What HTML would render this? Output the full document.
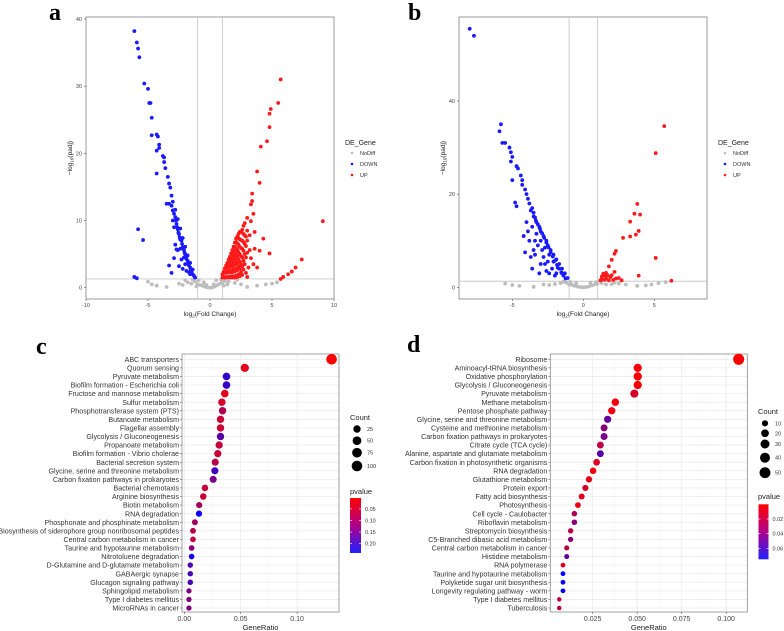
<!DOCTYPE html>
<html><head><meta charset="utf-8">
<style>
html,body{margin:0;padding:0;background:#fff;}
svg{display:block;font-family:"Liberation Sans",sans-serif;}
.pl{font-family:"Liberation Serif",serif;font-weight:bold;font-size:24px;fill:#000;}
</style></head>
<body>
<svg id="fig" width="784" height="631" viewBox="0 0 784 631" xmlns="http://www.w3.org/2000/svg">
<text class="pl" x="49" y="20">a</text>
<text class="pl" x="408" y="20">b</text>
<text class="pl" x="36" y="354">c</text>
<text class="pl" x="407" y="352">d</text>
</svg>
<script>
const NS='http://www.w3.org/2000/svg';
const svg=document.getElementById('fig');

// ---------- Panel a data ----------
const aDown=[[-6.1,38.2],[-5.9,36.5],[-5.8,35.6],[-5.7,34.3],[-5.3,30.4],[-5,29.6],[-4.9,27.5],[-4.8,27.5],[-4.7,25.3],[-4.7,22.7],[-4.3,22.8],[-4.2,22.5],[-4.1,21.3],[-4.1,20.8],[-4.3,20.4],[-3.8,19.6],[-3.7,19.4],[-3.7,18.7],[-3.6,17.8],[-4.3,17],[-3.4,16.5],[-3.3,15.5],[-3.2,14.9],[-3.1,13.7],[-3.5,12.5],[-3.3,12.5],[-3.1,12.2],[-3,11.5],[-2.9,11],[-2.8,10.5],[-2.75,10],[-2.7,9.5],[-2.65,9],[-2.6,8.7],[-2.55,8.2],[-2.5,8],[-2.45,7.5],[-2.4,7.2],[-2.3,7],[-2.25,6.5],[-2.2,6],[-2.1,5.6],[-2.05,5.2],[-2,5],[-1.95,4.6],[-1.9,4.3],[-1.8,4],[-1.75,3.6],[-1.7,3.3],[-1.6,3],[-1.55,2.7],[-1.5,2.4],[-1.4,2],[-1.3,1.8],[-1.2,1.5],[-3.0,12.8],[-2.8,11.6],[-2.6,10.2],[-2.4,8.8],[-2.2,7.4],[-2.0,6.1],[-1.8,4.8],[-1.6,3.7],[-1.4,2.7],[-5.8,8.7],[-5.4,7.1],[-6.1,1.6],[-5.9,1.4],[-3.3,3.3],[-3.1,2.2],[-2.9,4.4],[-2.6,5.6],[-2.5,3.2],[-2.2,2.8],[-2.8,6.4],[-2,3.5],[-1.9,2.5],[-3,10],[-2.9,9],[-2.4,5.8],[-2.1,4.5],[-1.7,2.3],[-2.7,5.7],[-2.3,4.2],[-1.6,2.0]];
const aUp=[[5.7,31],[5.5,27.5],[4.9,26.6],[4.8,25.9],[4.8,23.9],[4.6,21.8],[4.1,21],[3.8,17.3],[4,15.6],[3.4,14],[3.4,12.9],[3.3,12.4],[3.5,11],[3,10.4],[3.3,9.9],[9.1,9.9],[7.4,4.2],[4.3,7.3],[4.8,5.1],[6.9,3],[6.6,2.4],[6.3,2],[5.9,1.6],[5.7,1.3],[3.8,3],[3.6,5.8],[4,5.5],[3.5,3.5],[3,1.6],[3.6,8.3],[3.2,7.8],
[1.0,1.5],[1.0,2.0],[1.1,1.6],[1.1,2.4],[1.2,1.5],[1.2,2.2],[1.2,2.9],[1.3,1.6],[1.3,2.5],[1.3,3.3],[1.4,1.5],[1.4,2.2],[1.4,3.0],[1.4,3.7],[1.5,1.6],[1.5,2.5],[1.5,3.4],[1.5,4.2],[1.6,1.5],[1.6,2.3],[1.6,3.1],[1.6,3.9],[1.6,4.6],[1.7,1.7],[1.7,2.6],[1.7,3.5],[1.7,4.4],[1.7,5.1],[1.8,1.5],[1.8,2.3],[1.8,3.2],[1.8,4.1],[1.8,5.0],[1.8,5.6],[1.9,1.7],[1.9,2.7],[1.9,3.7],[1.9,4.6],[1.9,5.5],[1.9,6.1],[2.0,1.5],[2.0,2.4],[2.0,3.4],[2.0,4.3],[2.0,5.2],[2.0,6.1],[2.0,6.7],[2.1,1.8],[2.1,2.9],[2.1,3.9],[2.1,4.9],[2.1,5.9],[2.1,6.8],[2.1,7.3],[2.2,1.6],[2.2,2.6],[2.2,3.6],[2.2,4.6],[2.2,5.6],[2.2,6.6],[2.2,7.6],[2.3,2.0],[2.3,3.1],[2.3,4.2],[2.3,5.3],[2.3,6.4],[2.3,7.4],[2.3,8.0],[2.4,1.7],[2.4,2.8],[2.4,3.9],[2.4,5.0],[2.4,6.1],[2.4,7.2],[2.4,8.3],[2.5,2.3],[2.5,3.5],[2.5,4.7],[2.5,5.9],[2.5,7.1],[2.5,8.3],[2.6,1.9],[2.6,3.2],[2.6,4.5],[2.6,5.8],[2.6,7.0],[2.6,8.6],[2.7,2.7],[2.7,4.0],[2.7,5.5],[2.7,6.8],[2.7,8.0],[2.7,9.2],[2.8,3.5],[2.8,5.0],[2.8,6.5],[2.8,7.8],[2.8,9.6],[2.9,4.5],[2.9,6.2],[2.9,7.6],[3.0,5.2],[3.0,7.0],[3.0,8.5],[3.1,3.0],[3.2,5.6],[2.9,2.2],[3.3,4.4]];
const aNo=[[-5,0.9],[-4.7,0.5],[-4.3,0.3],[-3.5,0.1],[-2.5,0.6],[-2.2,0.4],[-1.8,0.8],[-1.5,0.6],[-1.2,0.9],[-1,0.5],[-0.8,0.4],[-0.6,0.3],[-0.4,0.15],[-0.2,0.05],[0,0],[0.2,0.05],[0.4,0.2],[0.6,0.4],[0.8,0.6],[1,0.8],[1.2,1],[1.5,0.9],[2,0.7],[2.5,0.5],[3,0.1],[3.8,0.3],[4.5,0.5],[5,0.6],[5.4,0.8],[-0.5,0.8],[0.5,1.1],[-1.4,1.2],[1.4,0.5],[2.2,1.2],[-2,1.1],[-0.9,1.1],[0.9,1.2],[-0.3,0.4],[0.3,0.5],[-1.1,0.2],[1.1,0.3]];
const aXTicks=[-10,-5,0,5,10];
const aYTicks=[0,10,20,30,40];

// ---------- Panel b data ----------
const bDown=[[-8,55.5],[-7.7,54],[-5.8,35],[-5.9,33.5],[-5.7,31],[-5.5,31],[-5.2,30],[-5.1,29],[-5,28],[-5.1,27],[-4.7,26],[-4.6,25.5],[-4.4,24],[-4.3,23],[-5,23],[-4.3,22],[-4.1,21],[-4,20],[-3.9,19],[-3.8,18],[-4.8,18.2],[-4.7,17.4],[-3.6,17],[-3.5,16],[-3.4,15],[-3.3,14],[-3.1,13],[-3,12],[-2.8,11],[-2.6,10],[-2.5,9],[-2.3,8],[-2.1,7],[-1.9,6],[-1.7,5],[-1.5,4],[-1.3,3],[-1.1,2],[-4,14],[-4.2,11],[-3.9,12],[-4.1,7.5],[-3.7,6.5],[-3.6,4],[-3.1,3],[-2.7,5],[-2.4,3],[-3.4,10],[-2.9,8],[-2,2.5],
[-3.5,15.2],[-3.35,14.4],[-3.2,13.5],[-3.05,12.6],[-2.9,11.6],[-2.75,10.6],[-2.6,9.6],[-2.45,8.6],[-2.3,7.5],[-2.15,6.6],[-2.0,5.7],[-1.85,4.8],[-1.7,4.0],[-1.55,3.2],[-1.4,2.5],[-1.25,1.9],[-3.6,13],[-3.3,11.5],[-3.0,10],[-2.7,8.5],[-2.4,7],[-2.1,5.5],[-1.8,4.2],[-1.5,3],[-3.7,16.5],[-3.2,9],[-2.8,6.5],[-2.5,5.5],[-2.2,4],[-1.9,3],[-3.4,7],[-3,5],[-2.6,3.5],[-3.8,10],[-3.5,8]];
const bUp=[[5.7,34.6],[5.1,28.8],[3.8,17.9],[3.6,15.8],[4,15.6],[3.3,14.1],[3.9,12.1],[3.7,11.3],[3.3,10.9],[2.8,10.6],[2.3,7.8],[2.2,7.2],[2,5.9],[1.8,4.5],[5.1,6.3],[3.9,2.5],[6.2,1.4],[2.2,3.3],[2.5,2],[1.5,2.5],[1.3,1.7],[1.6,1.9],[1.9,2.2],[2.1,1.6],[1.4,2.9],[1.7,2.6],[2.7,1.5],[1.2,1.5],[1.5,1.6],[1.8,1.5],[2.0,2.6],[1.6,3.1],[1.3,2.3],[2.3,1.9]];
const bNo=[[-5.5,0.8],[-5,0.5],[-4.5,0.3],[-3.5,0.1],[-2.8,0.6],[-2.4,0.5],[-2,0.7],[-1.6,0.9],[-1.2,1.0],[-1,0.6],[-0.8,0.5],[-0.6,0.3],[-0.4,0.15],[-0.2,0.05],[0,0],[0.2,0.05],[0.4,0.2],[0.6,0.4],[0.8,0.6],[1,0.8],[1.3,0.9],[1.6,0.6],[2,0.7],[2.5,0.8],[3,0.6],[3.8,0.3],[4.4,0.4],[4.8,0.6],[5.3,0.9],[5.8,1.1],[-0.5,0.9],[0.5,1.0],[-1.4,1.2],[2.2,1.0],[-0.9,1.1],[0.9,1.1]];
const bXTicks=[-5,0,5];
const bYTicks=[0,20,40];

// ---------- Panel c data ----------
const cTerms=["ABC transporters","Quorum sensing","Pyruvate metabolism","Biofilm formation - Escherichia coli","Fructose and mannose metabolism","Sulfur metabolism","Phosphotransferase system (PTS)","Butanoate metabolism","Flagellar assembly","Glycolysis / Gluconeogenesis","Propanoate metabolism","Biofilm formation - Vibrio cholerae","Bacterial secretion system","Glycine, serine and threonine metabolism","Carbon fixation pathways in prokaryotes","Bacterial chemotaxis","Arginine biosynthesis","Biotin metabolism","RNA degradation","Phosphonate and phosphinate metabolism","Biosynthesis of siderophore group nonribosomal peptides","Central carbon metabolism in cancer","Taurine and hypotaurine metabolism","Nitrotoluene degradation","D-Glutamine and D-glutamate metabolism","GABAergic synapse","Glucagon signaling pathway","Sphingolipid metabolism","Type I diabetes mellitus","MicroRNAs in cancer"];
const cRatio=[0.1306,0.0536,0.0374,0.0374,0.0359,0.0333,0.0339,0.0321,0.0321,0.0321,0.0309,0.0297,0.0274,0.0271,0.0256,0.0183,0.0168,0.0132,0.013,0.0094,0.0077,0.0077,0.0065,0.0065,0.0053,0.0053,0.0053,0.0041,0.0041,0.0041];
const cCount=[100,41,29,29,28,26,26,25,25,25,24,23,21,21,20,14,13,10,10,7,6,6,5,5,4,4,4,3,3,3];
const cP=[0.005,0.03,0.19,0.19,0.03,0.04,0.08,0.05,0.05,0.16,0.06,0.05,0.07,0.18,0.13,0.06,0.05,0.09,0.23,0.09,0.07,0.06,0.11,0.22,0.17,0.17,0.17,0.12,0.12,0.12];
const cXTicks=[0,0.05,0.10];
const cXLabels=["0.00","0.05","0.10"];
const cCountLegend=[25,50,75,100];
const cPLegend=[0.05,0.10,0.15,0.20];

// ---------- Panel d data ----------
const dTerms=["Ribosome","Aminoacyl-tRNA biosynthesis","Oxidative phosphorylation","Glycolysis / Gluconeogenesis","Pyruvate metabolism","Methane metabolism","Pentose phosphate pathway","Glycine, serine and threonine metabolism","Cysteine and methionine metabolism","Carbon fixation pathways in prokaryotes","Citrate cycle (TCA cycle)","Alanine, aspartate and glutamate metabolism","Carbon fixation in photosynthetic organisms","RNA degradation","Glutathione metabolism","Protein export","Fatty acid biosynthesis","Photosynthesis","Cell cycle - Caulobacter","Riboflavin metabolism","Streptomycin biosynthesis","C5-Branched dibasic acid metabolism","Central carbon metabolism in cancer","Histidine metabolism","RNA polymerase","Taurine and hypotaurine metabolism","Polyketide sugar unit biosynthesis","Longevity regulating pathway - worm","Type I diabetes mellitus","Tuberculosis"];
const dRatio=[0.107,0.0503,0.0503,0.0503,0.0484,0.0377,0.0357,0.0334,0.0314,0.0314,0.0293,0.0293,0.0272,0.0252,0.0229,0.0209,0.0188,0.0167,0.0147,0.0147,0.0126,0.0126,0.0104,0.0104,0.0083,0.0083,0.0083,0.0083,0.0062,0.0062];
const dCount=[52,24,24,24,23,18,17,16,15,15,14,14,13,12,11,10,9,8,7,7,6,6,5,5,4,4,4,4,3,3];
const dP=[0.0,0.002,0.002,0.003,0.012,0.003,0.006,0.045,0.035,0.04,0.02,0.05,0.01,0.005,0.008,0.012,0.01,0.006,0.025,0.035,0.02,0.035,0.02,0.045,0.01,0.075,0.075,0.075,0.02,0.02];
const dXTicks=[0.025,0.05,0.075,0.1];
const dXLabels=["0.025","0.050","0.075","0.100"];
const dCountLegend=[10,20,30,40,50];
const dPLegend=[0.02,0.04,0.06];

function mk(tag,attrs,parent){const e=document.createElementNS(NS,tag);for(const k in attrs)e.setAttribute(k,attrs[k]);(parent||svg).appendChild(e);return e;}
function txt(s,x,y,size,fill,anchor,parent){const t=mk('text',{x:x,y:y,'font-size':size,fill:fill,'text-anchor':anchor||'start'},parent);t.textContent=s;return t;}
function lin(d0,d1,r0,r1){return v=>r0+(v-d0)/(d1-d0)*(r1-r0);}
function pcol(p,lo,hi){let t=(p-lo)/(hi-lo);t=Math.max(0,Math.min(1,t));const r=Math.round(255*(1-t)),b=Math.round(255*t),g=0;return `rgb(${r},${g},${b})`;}

// ---------- Volcano ----------
function volcano(id,box,xd,yd,down,up,no,xt,yt,legX){
  const g=mk('g',{});
  
  
  const X=lin(xd[0],xd[1],xd[2],xd[3]), Y=lin(yd[0],yd[1],yd[2],yd[3]);
  const fr=mk('rect',{x:box[0],y:box[1],width:box[2]-box[0],height:box[3]-box[1],fill:'#fff',stroke:'#7f7f7f','stroke-width':0.8},g);
  
  
  [-1,1].forEach(v=>{const l=mk('line',{x1:X(v),x2:X(v),y1:box[1],y2:box[3],stroke:'#c8c8c8','stroke-width':0.9},g);
    
    });
  const hl=mk('line',{x1:box[0],x2:box[2],y1:Y(1.3),y2:Y(1.3),stroke:'#c8c8c8','stroke-width':0.9},g);
  
  
  const series=[[no,'#bdbdbd','nodiff-point'],[down,'#1a1aff','down-point'],[up,'#ff1a1a','up-point']];
  series.forEach(s=>s[0].forEach(p=>{const c=mk('circle',{cx:X(p[0]),cy:Y(p[1]),r:1.9,fill:s[1]},g);
    
    }));
  xt.forEach(v=>{mk('line',{x1:X(v),x2:X(v),y1:box[3],y2:box[3]+2,stroke:'#555','stroke-width':0.6},g);
    const t=txt(String(v),X(v),box[3]+8,5.5,'#444','middle',g);
    
    });
  yt.forEach(v=>{mk('line',{x1:box[0]-2,x2:box[0],y1:Y(v),y2:Y(v),stroke:'#555','stroke-width':0.6},g);
    const t=txt(String(v),box[0]-4,Y(v)+2,5.5,'#444','end',g);
    
    });
  const xl=mk('text',{x:(box[0]+box[2])/2,y:box[3]+17,'font-size':6.5,fill:'#222','text-anchor':'middle'},g);
  xl.innerHTML='log<tspan font-size="4.5" dy="1.5">2</tspan><tspan dy="-1.5">(Fold Change)</tspan>';
  
  
  const cy=(box[1]+box[3])/2, cx=box[0]-14;
  const yl=mk('text',{x:cx,y:cy,'font-size':6.5,fill:'#222','text-anchor':'middle',transform:`rotate(-90 ${cx} ${cy})`},g);
  yl.innerHTML='−log<tspan font-size="4.5" dy="1.5">10</tspan><tspan dy="-1.5">(padj)</tspan>';
  
  
  const lt=txt('DE_Gene',legX,145,7,'#222','start',g);
  
  
  [['NoDiff','#bdbdbd'],['DOWN','#1a1aff'],['UP','#ff1a1a']].forEach((e,i)=>{
    const le=mk('g',{},g);
    
    
    mk('circle',{cx:legX+7,cy:153+i*11,r:1.3,fill:e[1]},le);
    txt(e[0],legX+15,155+i*11,5.5,'#333','start',le);});
}
volcano('a',[86,17,334,299],[0,10,210,334],[0,40,287.7,19],aDown,aUp,aNo,aXTicks,aYTicks,345);
volcano('b',[459,17,707,299],[0,5,583.3,654.3],[0,40,287.3,101],bDown,bUp,bNo,bXTicks,bYTicks,718);

// ---------- Dot plots ----------
function dotplot(id,box,xd,terms,ratio,count,pv,xt,xlab,rA,rB,pLo,pHi,cleg,pleg,leg){
  const g=mk('g',{});
  
  
  const X=lin(xd[0],xd[1],xd[2],xd[3]);
  const n=terms.length, y0=box[1]+5.3, y1=box[3]-4, Y=i=>y0+i*(y1-y0)/(n-1);
  const R=c=>rA+rB*Math.sqrt(c);
  mk('rect',{x:box[0],y:box[1],width:box[2]-box[0],height:box[3]-box[1],fill:'#fff'},g);
  xt.forEach((v,i)=>{ mk('line',{x1:X(v),x2:X(v),y1:box[1],y2:box[3],stroke:'#ebebeb','stroke-width':0.8},g);
    if(i>0) mk('line',{x1:(X(v)+X(xt[i-1]))/2,x2:(X(v)+X(xt[i-1]))/2,y1:box[1],y2:box[3],stroke:'#f4f4f4','stroke-width':0.5},g);});
  terms.forEach((t,i)=>{mk('line',{x1:box[0],x2:box[2],y1:Y(i),y2:Y(i),stroke:'#ebebeb','stroke-width':0.8},g);
    mk('line',{x1:box[0]-2,x2:box[0],y1:Y(i),y2:Y(i),stroke:'#555','stroke-width':0.6},g);
    const l=txt(t,box[0]-3,Y(i)+2.6,7.1,'#333','end',g);
    
    });
  const fr=mk('rect',{x:box[0],y:box[1],width:box[2]-box[0],height:box[3]-box[1],fill:'none',stroke:'#8a8a8a','stroke-width':0.8},g);
  
  
  terms.forEach((t,i)=>{const c=mk('circle',{cx:X(ratio[i]),cy:Y(i),r:R(count[i]),fill:pcol(pv[i],pLo,pHi)},g);
    
    });
  xt.forEach((v,i)=>{mk('line',{x1:X(v),x2:X(v),y1:box[3],y2:box[3]+2,stroke:'#555','stroke-width':0.6},g);
    const t=txt(xlab[i],X(v),box[3]+9,7,'#444','middle',g);
    
    });
  const xl=txt('GeneRatio',(box[0]+box[2])/2,box[3]+18,7.5,'#222','middle',g);
  
  
  const ct=txt('Count',leg.cx,leg.cty,7.5,'#222','start',g);
  
  
  cleg.forEach((c,i)=>{const e=mk('g',{},g);
    
    
    mk('circle',{cx:leg.dx,cy:leg.dys[i],r:R(c),fill:'#000'},e);
    txt(String(c),leg.lx,leg.dys[i]+2,5.5,'#333','start',e);});
  const pt=txt('pvalue',leg.cx,leg.pty,7.5,'#222','start',g);
  
  
  const gid='grad'+id;
  const defs=mk('defs',{},g);
  const lg=mk('linearGradient',{id:gid,x1:0,y1:0,x2:0,y2:1},defs);
  mk('stop',{offset:'0','stop-color':'#ff0000'},lg);
  mk('stop',{offset:'0.5','stop-color':'#b0008a'},lg);
  mk('stop',{offset:'1','stop-color':'#2020ff'},lg);
  const bar=mk('rect',{x:leg.bx,y:leg.by0,width:leg.bw,height:leg.by1-leg.by0,fill:`url(#${gid})`},g);
  
  
  const PY=lin(pLo,pHi,leg.by0,leg.by1);
  pleg.forEach(v=>{mk('line',{x1:leg.bx,x2:leg.bx+2,y1:PY(v),y2:PY(v),stroke:'#fff','stroke-width':0.6},g);
    mk('line',{x1:leg.bx+leg.bw-2,x2:leg.bx+leg.bw,y1:PY(v),y2:PY(v),stroke:'#fff','stroke-width':0.6},g);
    const t=txt(v.toFixed(2),leg.bx+leg.bw+4,PY(v)+2,5.5,'#333','start',g);
    
    });
}
dotplot('c',[182,354,339,612],[0,0.05,184.3,240.7],cTerms,cRatio,cCount,cP,cXTicks,cXLabels,2.1,0.32,0.003,0.24,cCountLegend,cPLegend,
  {cx:350,cty:420,dx:357,dys:[429,440.7,452.7,466],lx:367,pty:494,bx:350,bw:11,by0:498,by1:553});
dotplot('d',[550.3,354,747.3,612],[0,0.025,548.2,592.7],dTerms,dRatio,dCount,dP,dXTicks,dXLabels,1.2,0.6,0.0,0.075,dCountLegend,dPLegend,
  {cx:758,cty:414,dx:765,dys:[423.3,433.3,444,457.7,472.7],lx:775,pty:499,bx:758.5,bw:10,by0:504.3,by1:559.3});
</script>
</body></html>
